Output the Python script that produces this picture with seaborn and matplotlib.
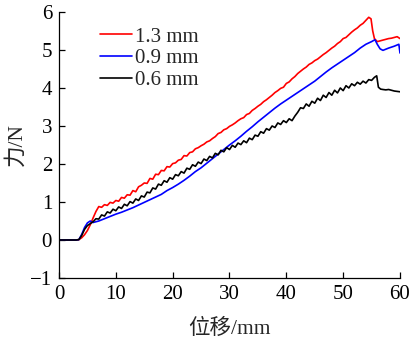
import numpy as np
import pandas as pd
import matplotlib
matplotlib.use("Agg")
import matplotlib.pyplot as plt
import seaborn as sns

# ---------------- data ----------------
labels = ["1.3 mm", "0.9 mm", "0.6 mm"]
colors = ["#ff0000", "#0000ff", "#000000"]

red_x = [0, 1, 2, 3, 3.5, 4, 4.5, 5, 5.5, 6, 6.5, 7, 7.5, 8, 8.5, 9, 9.5, 10, 10.5, 11, 11.5,
         12, 12.5, 13, 13.5, 14, 14.5, 15, 15.5, 16, 16.5, 17, 17.5, 18, 18.5, 19, 19.5, 20,
         20.5, 21, 21.5, 22, 22.5, 23, 23.5, 24, 24.5, 25, 25.5, 26, 26.5, 27, 27.5, 28, 28.5,
         29, 29.5, 30, 30.5, 31, 31.5, 32, 32.5, 33, 33.5, 34, 34.5, 35, 35.5, 36, 36.5, 37,
         37.5, 38, 38.5, 39, 39.5, 40, 40.5, 41, 41.5, 42, 42.5, 43, 43.5, 44, 44.5, 45, 45.5,
         46, 46.5, 47, 47.5, 48, 48.5, 49, 49.5, 50, 50.5, 51, 51.5, 52, 52.5, 53, 53.5, 54,
         54.5, 54.9, 55.2, 55.5, 56, 56.5, 57, 57.5, 58, 58.5, 59, 59.5, 60]
red_y = [0, 0, 0, 0, 0.01, 0.06, 0.14, 0.25, 0.40, 0.58, 0.75, 0.88, 0.86, 0.93, 0.91, 0.99,
         0.97, 1.04, 1.02, 1.12, 1.10, 1.19, 1.18, 1.30, 1.27, 1.40, 1.44, 1.50, 1.49, 1.62,
         1.60, 1.73, 1.72, 1.83, 1.82, 1.93, 1.92, 2.01, 2.03, 2.10, 2.12, 2.22, 2.21, 2.30,
         2.32, 2.40, 2.43, 2.48, 2.52, 2.58, 2.61, 2.67, 2.72, 2.80, 2.83, 2.90, 2.93, 2.99,
         3.03, 3.08, 3.14, 3.19, 3.22, 3.30, 3.33, 3.41, 3.46, 3.52, 3.57, 3.64, 3.69, 3.75,
         3.81, 3.88, 3.93, 3.99, 4.02, 4.12, 4.16, 4.24, 4.30, 4.38, 4.44, 4.50, 4.55, 4.62,
         4.66, 4.72, 4.76, 4.82, 4.88, 4.93, 4.99, 5.05, 5.10, 5.17, 5.22, 5.30, 5.33, 5.40,
         5.47, 5.53, 5.58, 5.65, 5.70, 5.78, 5.86, 5.82, 5.50, 5.30, 5.22, 5.24, 5.26, 5.28,
         5.30, 5.31, 5.33, 5.35, 5.30]

blue_x = [0, 1, 2, 3, 3.5, 4, 4.5, 5, 5.5, 6, 7, 8, 9, 10, 11, 12, 13, 14, 15, 16, 17, 18,
          19, 20, 21, 22, 23, 24, 25, 26, 27, 28, 29, 30, 31, 32, 33, 34, 35, 36, 37, 38, 39,
          40, 41, 42, 43, 44, 45, 46, 47, 48, 49, 50, 51, 52, 53, 54, 55, 55.6, 56, 56.5, 57,
          58, 59, 59.8, 60]
blue_y = [0, 0, 0, 0, 0.01, 0.15, 0.33, 0.45, 0.50, 0.46, 0.50, 0.56, 0.62, 0.68, 0.73, 0.79,
          0.85, 0.92, 0.99, 1.06, 1.13, 1.20, 1.30, 1.38, 1.47, 1.57, 1.68, 1.80, 1.90, 2.02,
          2.14, 2.26, 2.38, 2.50, 2.61, 2.73, 2.86, 2.98, 3.11, 3.23, 3.35, 3.47, 3.58, 3.68,
          3.78, 3.88, 3.98, 4.08, 4.18, 4.30, 4.42, 4.53, 4.63, 4.73, 4.83, 4.93, 5.05, 5.15,
          5.22, 5.27, 5.15, 5.03, 4.99, 5.05, 5.10, 5.15, 4.92]

black_x = [0, 1, 2, 3, 3.5, 4, 4.5, 5, 5.5, 6.0, 6.5, 7.0, 7.5, 8.0, 8.5, 9.0, 9.5, 10.0,
           10.5, 11.0, 11.5, 12.0, 12.5, 13.0, 13.5, 14.0, 14.5, 15.0, 15.5, 16.0, 16.5, 17.0,
           17.5, 18.0, 18.5, 19.0, 19.5, 20.0, 20.5, 21.0, 21.5, 22.0, 22.5, 23.0, 23.5, 24.0,
           24.5, 25.0, 25.5, 26.0, 26.5, 27.0, 27.5, 28.0, 28.5, 29.0, 29.5, 30.0, 30.5, 31.0,
           31.5, 32.0, 32.5, 33.0, 33.5, 34.0, 34.5, 35.0, 35.5, 36.0, 36.5, 37.0, 37.5, 38.0,
           38.5, 39.0, 39.5, 40.0, 40.5, 41.0, 41.5, 42.0, 42.5, 43.0, 43.5, 44.0, 44.5, 45.0,
           45.5, 46.0, 46.5, 47.0, 47.5, 48.0, 48.5, 49.0, 49.5, 50.0, 50.5, 51.0, 51.5, 52.0,
           52.5, 53.0, 53.5, 54.0, 54.5, 55.0, 55.5, 55.9, 56.2, 56.6, 57, 57.5, 58, 58.5, 59,
           59.5, 60]
black_y = [0, 0, 0, 0, 0.01, 0.12, 0.28, 0.38, 0.43, 0.48, 0.56, 0.55, 0.66, 0.63, 0.74, 0.71,
           0.81, 0.77, 0.87, 0.83, 0.94, 0.90, 1.01, 0.97, 1.08, 1.04, 1.16, 1.13, 1.26, 1.24,
           1.37, 1.34, 1.47, 1.44, 1.56, 1.52, 1.64, 1.60, 1.72, 1.69, 1.80, 1.76, 1.89, 1.86,
           1.98, 1.94, 2.05, 2.01, 2.13, 2.09, 2.20, 2.16, 2.28, 2.24, 2.36, 2.32, 2.43, 2.38,
           2.49, 2.44, 2.55, 2.51, 2.61, 2.56, 2.68, 2.64, 2.76, 2.73, 2.85, 2.81, 2.93, 2.89,
           3.00, 2.96, 3.08, 3.04, 3.14, 3.09, 3.19, 3.14, 3.26, 3.36, 3.48, 3.46, 3.58, 3.52,
           3.65, 3.60, 3.73, 3.67, 3.81, 3.75, 3.88, 3.81, 3.94, 3.87, 4.00, 3.93, 4.06, 4.00,
           4.11, 4.06, 4.15, 4.10, 4.18, 4.13, 4.22, 4.20, 4.28, 4.32, 4.02, 3.97, 3.96, 3.95,
           3.96, 3.94, 3.92, 3.91, 3.90]

x_ticks = [0, 10, 20, 30, 40, 50, 60]
y_ticks = [-1, 0, 1, 2, 3, 4, 5, 6]
x_label = "位移/mm"
y_label = "力/N"

# ---------------- build frame ----------------
frames = []
for lab, xs, ys in zip(labels, [red_x, blue_x, black_x], [red_y, blue_y, black_y]):
    frames.append(pd.DataFrame({"x": xs, "y": ys, "series": lab}))
df = pd.concat(frames, ignore_index=True)

sns.set_style("ticks")
plt.rcParams["font.family"] = ["Liberation Serif", "Noto Sans CJK SC"]
plt.rcParams["axes.unicode_minus"] = True
plt.rcParams["font.size"] = 15

fig = plt.figure(figsize=(4.10, 3.45), dpi=100)
ax = fig.add_axes([0.1439, 0.1942, 0.8317, 0.7711])

sns.lineplot(data=df, x="x", y="y", hue="series", hue_order=labels,
             palette=dict(zip(labels, colors)), estimator=None, sort=False,
             linewidth=1.2, ax=ax)

ax.set_xlim(0, 60)
ax.set_ylim(-1, 6)
ax.set_xticks(x_ticks)
ax.set_yticks(y_ticks)
ax.set_xlabel(x_label, fontsize=15.5, labelpad=10.5)
ax.set_ylabel(y_label, fontsize=15.5, labelpad=2.5)
ax.tick_params(direction="in", length=4, width=0.9, labelsize=15, pad=5, colors="black")
for s in ["left", "bottom"]:
    ax.spines[s].set_linewidth(0.9)
    ax.spines[s].set_color("black")
sns.despine(ax=ax)

leg = ax.legend(loc="upper left", bbox_to_anchor=(0.095, 0.975), frameon=False,
                handlelength=1.55, handletextpad=0.12, labelspacing=0.1,
                fontsize=15, borderaxespad=0)

fig.savefig("out.png", dpi=100)
